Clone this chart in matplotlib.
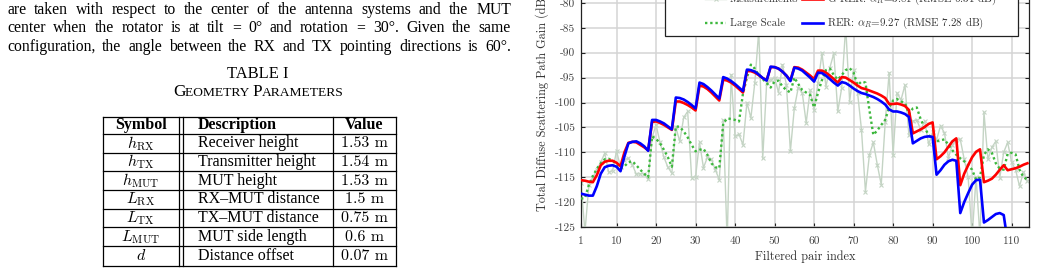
import numpy as np
import matplotlib
matplotlib.use("Agg")
from matplotlib import pyplot as plt
from matplotlib.patches import Rectangle
from matplotlib.lines import Line2D

plt.rcParams['mathtext.fontset'] = 'cm'
plt.rcParams['axes.formatter.use_mathtext'] = True

W, H = 1041, 273

# ---- page text ----
body_lines = [
    "are taken with respect to the center of the antenna systems and the MUT",
    "center when the rotator is at tilt = 0\u00b0 and rotation = 30\u00b0. Given the same",
    "configuration, the angle between the RX and TX pointing directions is 60\u00b0.",
]

# ---- table I ----
table_header = ["Symbol", "Description", "Value"]
table_symbols = [r"$h_{\mathrm{RX}}$", r"$h_{\mathrm{TX}}$", r"$h_{\mathrm{MUT}}$",
                 r"$L_{\mathrm{RX}}$", r"$L_{\mathrm{TX}}$", r"$L_{\mathrm{MUT}}$", r"$d$"]
table_desc = ["Receiver height", "Transmitter height", "MUT height", "RX\u2013MUT distance",
              "TX\u2013MUT distance", "MUT side length", "Distance offset"]
table_values = ["1.53 m", "1.54 m", "1.53 m", "1.5 m", "0.75 m", "0.6 m", "0.07 m"]

# ---- chart data ----
pair_index = np.arange(1, 115)
measurements = [
    -116.2, -126.0, -116.6, -115.0, -113.5, -112.0, -110.2, -114.0, -113.7, -109.7,
    -113.0, -111.5, -111.2, -112.5, -114.4, -114.3, -114.3, -115.4, -107.0, -104.5,
    -108.0, -111.0, -113.0, -114.2, -105.0, -107.8, -103.0, -101.8, -115.1, -114.9,
    -108.0, -113.1, -111.0, -111.4, -113.5, -115.5, -103.5, -128.0, -94.4, -106.8,
    -106.4, -108.5, -100.0, -103.1, -96.0, -85.5, -111.2, -96.0, -95.4, -95.0,
    -98.0, -92.4, -96.5, -109.8, -101.1, -97.0, -98.0, -104.1, -97.5, -101.5,
    -96.0, -90.1, -96.8, -93.0, -90.1, -101.8, -97.0, -84.7, -99.8, -93.4,
    -98.0, -105.5, -117.9, -110.5, -108.0, -112.5, -116.5, -104.0, -94.0, -110.5,
    -98.1, -99.5, -96.5, -106.5, -103.7, -103.5, -105.5, -103.7, -108.4, -106.0,
    -107.5, -104.7, -106.1, -111.1, -108.5, -107.5, -107.4, -111.4, -115.0, -127.0,
    -115.0, -127.0, -102.0, -111.4, -109.0, -107.8, -115.1, -110.0, -108.0, -112.0,
    -113.5, -116.8, -114.0, -115.8,
]
large_scale = [
    -119.3, -119.2, -116.5, -114.8, -113.3, -112.2, -111.4, -111.3, -111.7, -112.3,
    -113.2, -112.8, -112.0, -111.8, -112.6, -113.5, -114.3, -115.0, -106.8, -107.3,
    -108.2, -109.5, -111.0, -112.9, -104.8, -104.9, -105.8, -107.0, -108.5, -109.8,
    -109.5, -109.3, -110.5, -112.2, -113.0, -113.2, -104.2, -103.2, -103.3, -103.5,
    -103.8, -98.2, -95.0, -92.4, -93.2, -94.5, -95.3, -96.1, -97.0, -95.8,
    -95.6, -96.8, -97.5, -98.0, -95.0, -96.3, -97.5, -98.0, -98.5, -101.0,
    -98.0, -95.5, -93.5, -93.2, -94.5, -95.4, -94.5, -93.5, -93.1, -94.0,
    -96.5, -95.8, -96.0, -101.5, -106.5, -105.6, -104.5, -103.5, -101.0, -99.6,
    -99.3, -99.8, -100.1, -102.3, -101.2, -101.0, -103.4, -105.1, -106.5, -107.3,
    -107.8, -107.6, -107.4, -108.5, -109.6, -110.5, -111.2, -111.8, -112.6, -113.5,
    -115.5, -115.0, -110.5, -109.4, -110.1, -112.2, -113.3, -113.5, -110.3, -110.1,
    -110.4, -113.5, -115.0, -115.5,
]
g_rer = [
    -115.6, -115.7, -115.9, -116.0, -114.6, -112.6, -111.9, -111.7, -111.7, -112.1,
    -112.8, -110.0, -108.1, -107.9, -108.0, -108.5, -109.0, -109.6, -103.9, -103.8,
    -104.1, -104.5, -105.0, -105.5, -99.8, -99.8, -100.1, -100.5, -101.0, -101.6,
    -96.6, -96.8, -97.3, -98.0, -98.8, -99.6, -95.4, -95.6, -96.0, -96.6,
    -97.3, -98.0, -93.7, -93.7, -94.0, -94.5, -95.1, -95.5, -92.9, -92.9,
    -93.2, -93.8, -94.6, -95.6, -92.9, -93.0, -93.4, -94.0, -94.6, -95.3,
    -93.6, -93.6, -94.0, -94.6, -95.3, -96.0, -94.9, -95.0, -95.5, -96.0,
    -96.6, -97.1, -97.3, -97.6, -97.9, -98.2, -98.6, -99.1, -100.3, -100.3,
    -100.2, -100.4, -100.7, -101.5, -106.2, -105.8, -105.4, -104.9, -104.3, -104.0,
    -111.4, -110.8, -110.0, -108.9, -107.8, -107.2, -116.6, -114.3, -112.6, -111.0,
    -109.9, -109.4, -116.0, -115.7, -115.3, -114.5, -113.5, -112.6, -113.6, -113.4,
    -113.2, -112.9, -112.5, -112.2,
]
rer = [
    -118.3, -118.5, -118.7, -118.7, -116.8, -114.3, -113.0, -112.7, -112.6, -112.9,
    -113.8, -110.8, -108.2, -107.9, -107.8, -108.2, -108.8, -109.7, -103.5, -103.5,
    -103.8, -104.2, -104.8, -105.4, -99.0, -99.1, -99.4, -99.9, -100.5, -101.2,
    -96.0, -96.3, -96.9, -97.6, -98.4, -99.2, -94.9, -95.2, -95.7, -96.3,
    -97.0, -97.7, -93.4, -93.5, -93.8, -94.4, -95.1, -95.6, -92.8, -92.9,
    -93.2, -93.8, -94.6, -95.7, -93.0, -93.2, -93.6, -94.3, -95.0, -95.8,
    -94.0, -94.1, -94.6, -95.3, -96.0, -96.6, -95.9, -96.1, -96.6, -97.2,
    -97.7, -98.1, -98.3, -98.6, -98.9, -99.3, -99.8, -100.4, -101.4, -101.8,
    -101.8, -102.0, -102.3, -102.9, -108.2, -107.7, -107.2, -106.9, -106.8, -106.9,
    -114.5, -113.6, -112.5, -111.8, -111.5, -111.7, -122.2, -120.0, -118.2, -116.5,
    -115.6, -115.5, -124.1, -123.6, -123.0, -122.4, -122.2, -122.6, -128.0, -128.5,
    -129.0, -129.5, -130.0, -130.5,
]
x_ticks = [1, 10, 20, 30, 40, 50, 60, 70, 80, 90, 100, 110]
y_ticks = [-125, -120, -115, -110, -105, -100, -95, -90, -85, -80]


def fx(x):
    return x / W


def fy(y):
    return 1 - y / H


fig = plt.figure(figsize=(W / 100, H / 100), dpi=100)
renderer = fig.canvas.get_renderer()

serif = 'Liberation Serif'
body_size = 11.3
cell_size = 11.5

# justified paragraph lines
for line, base in zip(body_lines, [13.5, 32.3, 51.0]):
    words = line.split()
    texts = [fig.text(0, fy(base), w, fontsize=body_size, family=serif, va='baseline')
             for w in words]
    widths = [t.get_window_extent(renderer).width for t in texts]
    gap = (511 - 7 - sum(widths)) / (len(words) - 1)
    x = 7
    for t, w in zip(texts, widths):
        t.set_x(fx(x))
        x += w + gap

# caption
fig.text(fx(258), fy(78), "TABLE I", fontsize=11.9, family=serif, ha='center', va='baseline')
pieces = [("G", 12.4), ("EOMETRY ", 9.7), ("P", 12.4), ("ARAMETERS", 9.7)]
ptexts = [fig.text(0, fy(96), s, fontsize=sz, family=serif, va='baseline') for s, sz in pieces]
pw = [t.get_window_extent(renderer).width for t in ptexts]
x = 258.5 - sum(pw) / 2
for t, w in zip(ptexts, pw):
    t.set_x(fx(x))
    x += w

# table grid
row_lines = [116.7, 134.0, 152.7, 171.3, 190.0, 208.7, 227.3, 246.0, 265.5]
col_lines = [103.3, 179.3, 182.7, 332.7, 396.0]
for y in row_lines:
    fig.add_artist(Line2D([fx(103.3), fx(396.0)], [fy(y), fy(y)], color='black', lw=0.9))
for x in col_lines:
    fig.add_artist(Line2D([fx(x), fx(x)], [fy(116.7), fy(265.5)], color='black', lw=0.9))

hy = (row_lines[0] + row_lines[1]) / 2
fig.text(fx(141), fy(hy), table_header[0], fontsize=cell_size, family=serif, weight='bold',
         ha='center', va='center')
fig.text(fx(198), fy(hy), table_header[1], fontsize=cell_size, family=serif, weight='bold',
         ha='left', va='center')
fig.text(fx(364.5), fy(hy), table_header[2], fontsize=cell_size, family=serif, weight='bold',
         ha='center', va='center')
for k in range(len(table_desc)):
    cy = (row_lines[k + 1] + row_lines[k + 2]) / 2
    fig.text(fx(141), fy(cy), table_symbols[k], fontsize=cell_size, ha='center', va='center')
    fig.text(fx(198), fy(cy), table_desc[k], fontsize=cell_size, family=serif,
             ha='left', va='center')
    fig.text(fx(364.5), fy(cy), table_values[k], fontsize=cell_size, family='cmr10',
             ha='center', va='center')

# ---- chart ----
ax = fig.add_axes([fx(581), fy(227), (1029 - 581) / W, (227 + 22) / H])
meas_style = dict(color='#c4d4c4', lw=1.0, marker='x', ms=3.5, mew=0.8)
ls_style = dict(color='#3db83d', lw=1.7, ls=(0, (1, 1.2)))
grer_style = dict(color='red', lw=1.9)
rer_style = dict(color='blue', lw=1.9)
ax.plot(pair_index, measurements, zorder=2, **meas_style)
ax.plot(pair_index, large_scale, zorder=3, **ls_style)
ax.plot(pair_index, g_rer, zorder=4, **grer_style)
ax.plot(pair_index, rer, zorder=4, **rer_style)

ax.set_xlim(1, 114.4)
ax.set_ylim(-125, -75)
ax.set_xticks(x_ticks)
ax.set_xticklabels([str(v) for v in x_ticks])
ax.set_yticks(y_ticks)
ax.set_yticklabels([str(v) for v in y_ticks])
ax.grid(True, color='#d4d4d4', lw=1.1)
ax.set_axisbelow(True)
for s in ax.spines.values():
    s.set_color('#222222')
    s.set_linewidth(0.9)
ax.tick_params(direction='in', length=3, width=0.8, top=True, right=True,
               labelsize=8.2, colors='#222222', labelcolor='#444444', pad=4)
ax.tick_params(axis='x', pad=7)
for lab in ax.get_xticklabels() + ax.get_yticklabels():
    lab.set_family('cmr10')
ax.set_xlabel("Filtered pair index", family='cmr10', fontsize=8.8, color='#333333', labelpad=3)
ax.set_ylabel("Total Diffuse Scattering Path Gain (dB)", family='cmr10', fontsize=8.8,
              color='#333333', labelpad=4)


# legend, laid out by hand (two columns, wide side padding)
def ax_xy(px, py):
    return (px - 581) / 448, (227 - py) / 249


x0, y0 = ax_xy(665, 36)
x1, _ = ax_xy(1018, 36)
ax.add_patch(Rectangle((x0, y0), x1 - x0, 0.3, transform=ax.transAxes, facecolor='white',
                       edgecolor='#222222', lw=0.9, zorder=5, clip_on=False))
entries = [
    (705, -1, meas_style, "Measurements"),
    (705, 23, ls_style, "Large Scale"),
    (802, -1, grer_style, r"G-RER: $\alpha_R$=3.81 (RMSE 6.31 dB)"),
    (802, 23, rer_style, r"RER: $\alpha_R$=9.27 (RMSE 7.28 dB)"),
]
for hx, hy_, style, text in entries:
    a, b = ax_xy(hx, hy_)
    c, _ = ax_xy(hx + 21, hy_)
    st = dict(style)
    mk = st.pop('marker', None)
    ms = st.pop('ms', None)
    mew = st.pop('mew', None)
    ax.plot([a, c], [b, b], transform=ax.transAxes, zorder=6, clip_on=False, **st)
    if mk:
        ax.plot([(a + c) / 2], [b], transform=ax.transAxes, zorder=6, clip_on=False,
                color=st['color'], marker=mk, ms=ms, mew=mew, ls='none')
    tx, _ = ax_xy(hx + 25, hy_)
    ax.text(tx, b, text, transform=ax.transAxes, family='cmr10', fontsize=7.9,
            color='#333333', va='center', ha='left', zorder=6)

fig.savefig("out.png", dpi=100)
